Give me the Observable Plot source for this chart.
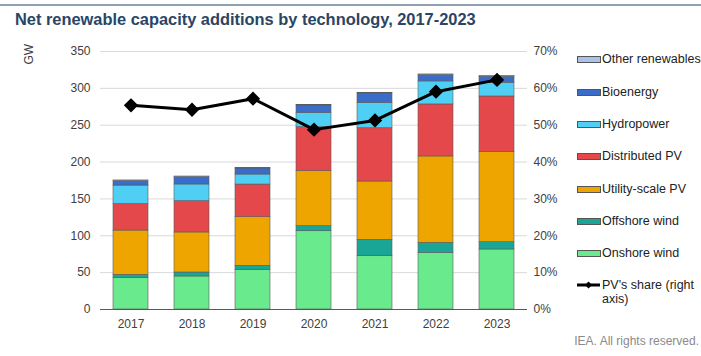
<!DOCTYPE html>
<html>
<head>
<meta charset="utf-8">
<script src="https://cdn.jsdelivr.net/npm/d3@7"></script>
<script src="https://cdn.jsdelivr.net/npm/@observablehq/plot@0.6"></script>
<style>
  html, body { margin: 0; padding: 0; background: #fff; }
  body { width: 701px; height: 356px; position: relative; overflow: hidden; font-family: "Liberation Sans", Arial, sans-serif; }
  #topline { position: absolute; left: 0; top: 4px; width: 701px; height: 2px; background: #8fa0b3; }
  #title { position: absolute; left: 15px; top: 10px; font-size: 16.4px; font-weight: bold; color: #2a4565; white-space: nowrap; }
  #chart { position: absolute; left: 0; top: 36px; }
  #legend { position: absolute; left: 577px; top: 0; }
  .li { position: absolute; left: 0; white-space: nowrap; font-size: 12.5px; color: #222; line-height: 14px; }
  .sw { position: absolute; left: 0; width: 22px; height: 5px; border: 0.6px solid #555; }
  .lt { position: absolute; left: 25px; }
  #caption { position: absolute; right: 2px; top: 334px; font-size: 12px; color: #8a8a8a; }
</style>
</head>
<body>
<div id="topline"></div>
<div id="title">Net renewable capacity additions by technology, 2017-2023</div>
<div id="chart"></div>
<div id="legend"></div>
<div id="caption">IEA. All rights reserved.</div>
<script>
const years = ["2017", "2018", "2019", "2020", "2021", "2022", "2023"];
const seriesNames = ["Onshore wind", "Offshore wind", "Utility-scale PV", "Distributed PV", "Hydropower", "Bioenergy", "Other renewables"];
const seriesColors = ["#69ea8d", "#1aa696", "#efa500", "#e5484a", "#4fcff4", "#3a6cca", "#a9c2e6"];
const onshoreWind = [42.5, 44.8, 53.8, 106.2, 72.3, 76.9, 81.4];
const offshoreWind = [4.6, 5.4, 5.4, 6.8, 22.2, 13.6, 9.9];
const utilityPV = [60.0, 54.3, 66.0, 74.6, 79.1, 117.1, 122.1];
const distributedPV = [36.0, 42.5, 44.3, 59.7, 72.3, 70.6, 75.6];
const hydropower = [25.0, 22.6, 13.6, 19.5, 34.5, 31.2, 18.6];
const bioenergy = [6.2, 10.0, 8.2, 10.1, 12.8, 8.7, 8.2];
const otherRenewables = [0.8, 0.8, 0.8, 0.8, 0.8, 0.8, 0.8];
const pvShare = [55.4, 54.2, 57.2, 48.8, 51.3, 59.1, 62.3];
const leftTicks = [0, 50, 100, 150, 200, 250, 300, 350];
const rightTicks = [0, 10, 20, 30, 40, 50, 60, 70];

const seriesValues = [onshoreWind, offshoreWind, utilityPV, distributedPV, hydropower, bioenergy, otherRenewables];
const rows = [];
years.forEach((yr, i) => {
  seriesNames.forEach((s, k) => rows.push({year: yr, series: s, value: seriesValues[k][i]}));
});
const shareRows = years.map((yr, i) => ({year: yr, share: pvShare[i]}));
// right axis: 70% maps to 350 GW
const k = 350 / 70;

const chart = Plot.plot({
  width: 575,
  height: 300,
  marginLeft: 100,
  marginRight: 48,
  marginTop: 15,
  marginBottom: 27,
  style: {fontFamily: "Liberation Sans, Arial, sans-serif", fontSize: "12px", color: "#404040", background: "transparent"},
  x: {type: "band", domain: years, paddingInner: 0.43, paddingOuter: 0.215, label: null},
  y: {domain: [0, 350], label: null},
  color: {domain: seriesNames, range: seriesColors},
  marks: [
    Plot.gridY(leftTicks, {stroke: "#d9d9d9", strokeOpacity: 1}),
    Plot.axisY(leftTicks, {anchor: "left", tickSize: 0, tickPadding: 10, label: null}),
    Plot.axisY(rightTicks.map(d => d * k), {anchor: "right", tickSize: 0, tickPadding: 6, label: null, tickFormat: d => `${d / k}%`}),
    Plot.axisX({tickSize: 0, tickPadding: 10, label: null}),
    Plot.barY(rows, {x: "year", y: "value", fill: "series", order: seriesNames, stroke: "#5a5a5a", strokeWidth: 0.6}),
    Plot.ruleY([0], {stroke: "#595959", strokeWidth: 1.2}),
    Plot.line(shareRows, {x: "year", y: d => d.share * k, stroke: "#000", strokeWidth: 3}),
    Plot.dot(shareRows, {x: "year", y: d => d.share * k, symbol: "diamond2", r: 5.5, fill: "#000", stroke: "#000"}),
    Plot.text(["GW"], {frameAnchor: "top-left", dx: -76, dy: 13, rotate: -90, fontSize: 12, fill: "#404040"})
  ]
});
document.getElementById("chart").appendChild(chart);

// legend (top to bottom, reversed stacking order)
const legend = document.getElementById("legend");
const legendCenters = [59, 91.5, 123.5, 156, 188.5, 221, 253];
const order = seriesNames.slice().reverse();
const colorsRev = seriesColors.slice().reverse();
order.forEach((name, i) => {
  const item = document.createElement("div");
  item.className = "li";
  item.style.top = (legendCenters[i] - 7) + "px";
  item.innerHTML = `<div class="sw" style="top:4px;background:${colorsRev[i]}"></div><span class="lt">${name}</span>`;
  legend.appendChild(item);
});
const lineItem = document.createElement("div");
lineItem.className = "li";
lineItem.style.top = (285 - 7) + "px";
lineItem.innerHTML = `<svg width="24" height="14" style="position:absolute;left:0;top:0"><line x1="0" y1="7" x2="23" y2="7" stroke="#000" stroke-width="3"/><path d="M11.5 3.5 L15 7 L11.5 10.5 L8 7 Z" fill="#000"/></svg><span class="lt">PV's share (right<br>axis)</span>`;
legend.appendChild(lineItem);
</script>
</body>
</html>
